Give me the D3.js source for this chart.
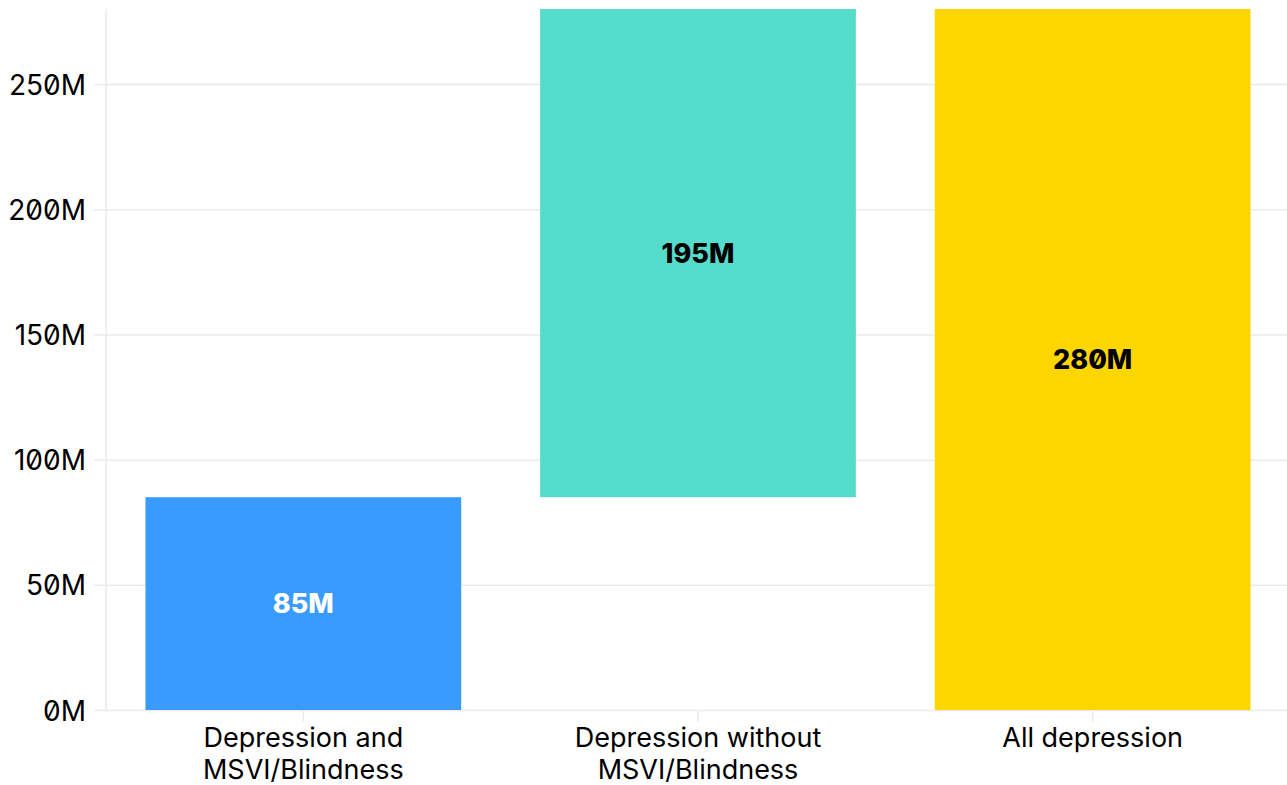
<!DOCTYPE html>
<html>
<head>
  <meta charset="utf-8">
  <title>depression-waterfall</title>
  <style>
    * { padding: 0; margin: 0; }
    html, body { width: 100%; height: 100%; background: #fff; }
    svg text { font-family: Inter, "Noto Sans", sans-serif; font-feature-settings: "zero" 1; }
    .grid line { stroke: #ebebeb; stroke-width: 1.5; }
    .grid path { display: none; }
  </style>
</head>
<body>
  <svg id="svg"></svg>
  <script src="https://cdnjs.cloudflare.com/ajax/libs/d3/7.8.5/d3.min.js"></script>
  <script>
    // data
    const categories = ['Depression and\nMSVI/Blindness', 'Depression without\nMSVI/Blindness', 'All depression'];
    const starts = [0, 85, 0];           // millions
    const ends = [85, 280, 280];         // millions
    const labels = ['85M', '195M', '280M'];
    const colors = ['#3a9bff', '#55dccb', '#fdd600'];
    const labelColors = ['#ffffff', '#000000', '#000000'];
    const yTicks = [0, 50, 100, 150, 200, 250];

    const dimension = {
      width: 1287,
      height: 785,
      margin: { top: 9, right: -3, bottom: 75, left: 106 }
    };

    const svg = d3.select('#svg').attr('width', dimension.width).attr('height', dimension.height);

    const xScale = d3.scaleBand()
      .domain(d3.range(categories.length))
      .range([dimension.margin.left, dimension.width - dimension.margin.right])
      .paddingInner(0.2)
      .paddingOuter(0.1);

    const yScale = d3.scaleLinear()
      .domain([0, 280])
      .range([dimension.height - dimension.margin.bottom, dimension.margin.top]);

    // horizontal grid
    svg.append('g')
      .attr('class', 'grid')
      .attr('transform', `translate(${dimension.margin.left}, 0)`)
      .call(d3.axisLeft(yScale).tickValues(yTicks).tickSize(-(dimension.width - dimension.margin.left)).tickFormat(''));

    // vertical line on the left
    svg.append('line')
      .attr('x1', dimension.margin.left).attr('x2', dimension.margin.left)
      .attr('y1', dimension.margin.top).attr('y2', yScale(0))
      .attr('stroke', '#ebebeb').attr('stroke-width', 1.5);

    // y axis
    const yAxis = svg.append('g')
      .attr('transform', `translate(${dimension.margin.left}, 0)`)
      .call(d3.axisLeft(yScale).tickValues(yTicks).tickSize(12).tickPadding(8).tickFormat(d => d + 'M'));
    yAxis.select('.domain').remove();
    yAxis.selectAll('line').attr('stroke', '#ebebeb').attr('stroke-width', 1.5);
    yAxis.selectAll('text').attr('fill', '#000').style('font-size', '28px').attr('dy', '0.36em');

    // x axis
    const xAxis = svg.append('g')
      .attr('transform', `translate(0, ${yScale(0)})`)
      .call(d3.axisBottom(xScale).tickSize(12).tickFormat(''));
    xAxis.select('.domain').remove();
    xAxis.selectAll('line').attr('stroke', '#ebebeb').attr('stroke-width', 1.5);

    xAxis.selectAll('.tick').each(function (d) {
      const lines = categories[d].split('\n');
      const t = d3.select(this).append('text')
        .attr('fill', '#000')
        .attr('text-anchor', 'middle')
        .style('font-size', '27px');
      lines.forEach((ln, i) => {
        t.append('tspan').attr('x', 0).attr('y', 37 + i * 32).text(ln);
      });
    });

    // bars
    svg.append('g')
      .selectAll('rect')
      .data(d3.range(categories.length))
      .enter()
      .append('rect')
      .attr('x', i => xScale(i))
      .attr('y', i => yScale(ends[i]))
      .attr('width', xScale.bandwidth())
      .attr('height', i => yScale(starts[i]) - yScale(ends[i]))
      .attr('fill', i => colors[i]);

    // value labels
    svg.append('g')
      .selectAll('text')
      .data(d3.range(categories.length))
      .enter()
      .append('text')
      .attr('x', i => xScale(i) + xScale.bandwidth() / 2)
      .attr('y', i => (yScale(starts[i]) + yScale(ends[i])) / 2)
      .attr('dy', '0.36em')
      .attr('text-anchor', 'middle')
      .attr('fill', i => labelColors[i])
      .style('font-size', '27px')
      .style('font-weight', 800)
      .text(i => labels[i]);
  </script>
</body>
</html>
